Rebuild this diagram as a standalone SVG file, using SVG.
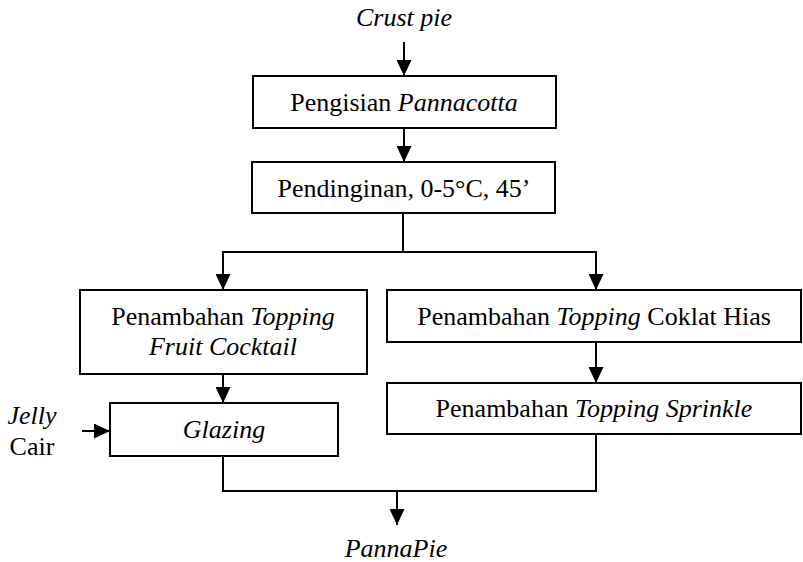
<svg xmlns="http://www.w3.org/2000/svg" width="803" height="562" viewBox="0 0 803 562" font-family="Liberation Serif, serif">
<style>
  .box { fill: #fff; stroke: #000; stroke-width: 2; }
  text { font-family: "Liberation Serif", serif; font-size: 26px; fill: #000; text-anchor: middle; }
  .i { font-style: italic; }
  .c { fill: none; stroke: #000; stroke-width: 2; }
</style>
<defs>
  <marker id="ah" markerUnits="userSpaceOnUse" markerWidth="16" markerHeight="15" refX="16" refY="7.5" orient="auto">
    <path d="M0,0 L16,7.5 L0,15 Z" fill="#000"/>
  </marker>
</defs>
<rect width="803" height="562" fill="#fff"/>
<g id="connectors">
  <path class="c" d="M404,42 V76" marker-end="url(#ah)"/>
  <path class="c" d="M404,128 V162" marker-end="url(#ah)"/>
  <path class="c" d="M403,213 V252"/>
  <path class="c" d="M222,252 H597"/>
  <path class="c" d="M223,252 V290" marker-end="url(#ah)"/>
  <path class="c" d="M596,252 V290" marker-end="url(#ah)"/>
  <path class="c" d="M223,374 V403" marker-end="url(#ah)"/>
  <path class="c" d="M596,342 V383" marker-end="url(#ah)"/>
  <path class="c" d="M82,431 H110" marker-end="url(#ah)"/>
  <path class="c" d="M223,456 V491 H596 V434"/>
  <path class="c" d="M397,491 V525" marker-end="url(#ah)"/>
</g>
<g id="crust">
  <text class="i" x="404" y="26" font-family="Liberation Serif">Crust pie</text>
</g>
<g id="pengisian">
  <rect class="box" x="253" y="76" width="303" height="52"/>
  <text x="404" y="111" font-family="Liberation Serif">Pengisian <tspan class="i">Pannacotta</tspan></text>
</g>
<g id="pendinginan">
  <rect class="box" x="252" y="162" width="303" height="51"/>
  <text x="404" y="197" font-family="Liberation Serif">Pendinginan, 0-5°C, 45’</text>
</g>
<g id="fruit">
  <rect class="box" x="80" y="290" width="287" height="84"/>
  <text x="223" y="325" font-family="Liberation Serif">Penambahan <tspan class="i">Topping</tspan></text>
  <text class="i" x="223" y="355" font-family="Liberation Serif">Fruit Cocktail</text>
</g>
<g id="glazing">
  <rect class="box" x="110" y="403" width="228" height="53"/>
  <text class="i" x="224" y="438" font-family="Liberation Serif">Glazing</text>
</g>
<g id="jelly">
  <text class="i" x="32" y="424" font-family="Liberation Serif">Jelly</text>
  <text x="32" y="455" font-family="Liberation Serif">Cair</text>
</g>
<g id="coklat">
  <rect class="box" x="387" y="290" width="414" height="52"/>
  <text x="594" y="325" font-family="Liberation Serif">Penambahan <tspan class="i">Topping</tspan> Coklat Hias</text>
</g>
<g id="sprinkle">
  <rect class="box" x="387" y="383" width="414" height="51"/>
  <text x="594" y="417" font-family="Liberation Serif">Penambahan <tspan class="i">Topping Sprinkle</tspan></text>
</g>
<g id="pannapie">
  <text class="i" x="396" y="557" font-family="Liberation Serif">PannaPie</text>
</g>
</svg>
